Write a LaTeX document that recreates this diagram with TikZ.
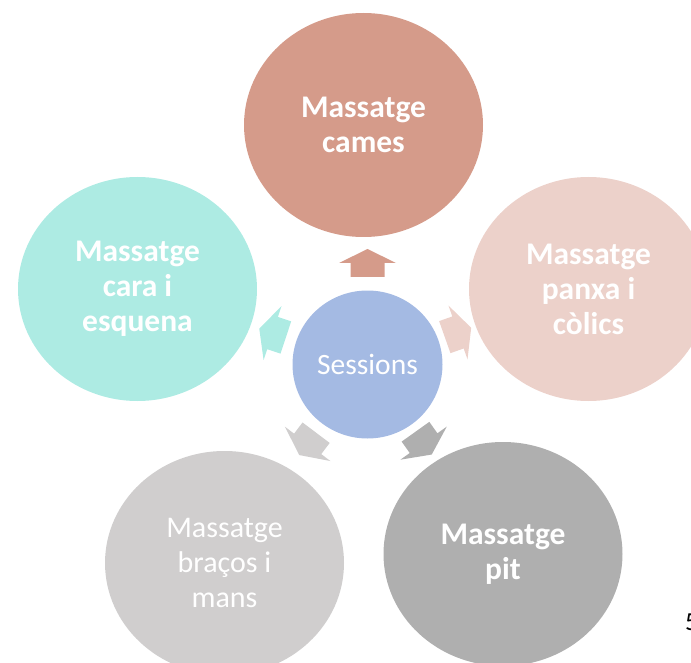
\documentclass[tikz,border=0pt]{standalone}
\usepackage{fontspec}
\setmainfont{Carlito}
\usetikzlibrary{shapes.geometric}
\definecolor{cTop}{RGB}{213,155,138}
\definecolor{cRight}{RGB}{236,209,202}
\definecolor{cLeft}{RGB}{173,235,227}
\definecolor{cBL}{RGB}{208,206,206}
\definecolor{cBR}{RGB}{175,175,175}
\definecolor{cMid}{RGB}{164,186,227}
\newcommand\blockarr[4]{%
  \fill[#4, shift={(#1)}, rotate=#2, shift={(#3,0)}]
    (-14,-17) -- (0,-17) -- (0,-28.5) -- (14,0) -- (0,28.5) -- (0,17) -- (-14,17) -- cycle;}
\begin{document}
\begin{tikzpicture}[x=1pt,y=1pt,
  bub/.style={ellipse, minimum width=239pt, minimum height=224pt, inner sep=0pt,
    text=white, align=center, font=\fontsize{31.5}{35}\selectfont\bfseries},
  lightbub/.style={bub, font=\fontsize{30}{35}\selectfont},
  hub/.style={ellipse, minimum width=150pt, minimum height=148pt, inner sep=0pt,
    fill=cMid, text=white, font=\fontsize{29.5}{34}\selectfont}]
\useasboundingbox (0,0) rectangle (691,-663);
\clip (0,0) rectangle (691,-663);
\node[hub] (S) at (367.5,-364.5) {Sessions};
\node[bub, fill=cTop] (T) at (363.5,-125) {Massatge\\cames};
\node[bub, fill=cRight] (R) at (588.5,-289) {Massatge\\panxa i\\còlics};
\node[bub, fill=cLeft] (L) at (137.5,-289) {Massatge\\cara i\\esquena};
\node[lightbub, fill=cBL] (BL) at (224.5,-563) {Massatge\\braços i\\mans};
\node[bub, fill=cBR] (BR) at (503,-554) {Massatge\\pit};
\blockarr{S.center}{90}{101.5}{cTop}
\blockarr{S.center}{19.5}{96}{cRight}
\blockarr{S.center}{161.7}{100}{cLeft}
\blockarr{S.center}{-127}{99.4}{cBL}
\blockarr{S.center}{-54.5}{96.6}{cBR}
\node[anchor=base west, inner sep=0pt, font=\fontsize{26}{30}\selectfont] (pg) at (685,-630) {5};
\end{tikzpicture}
\end{document}
